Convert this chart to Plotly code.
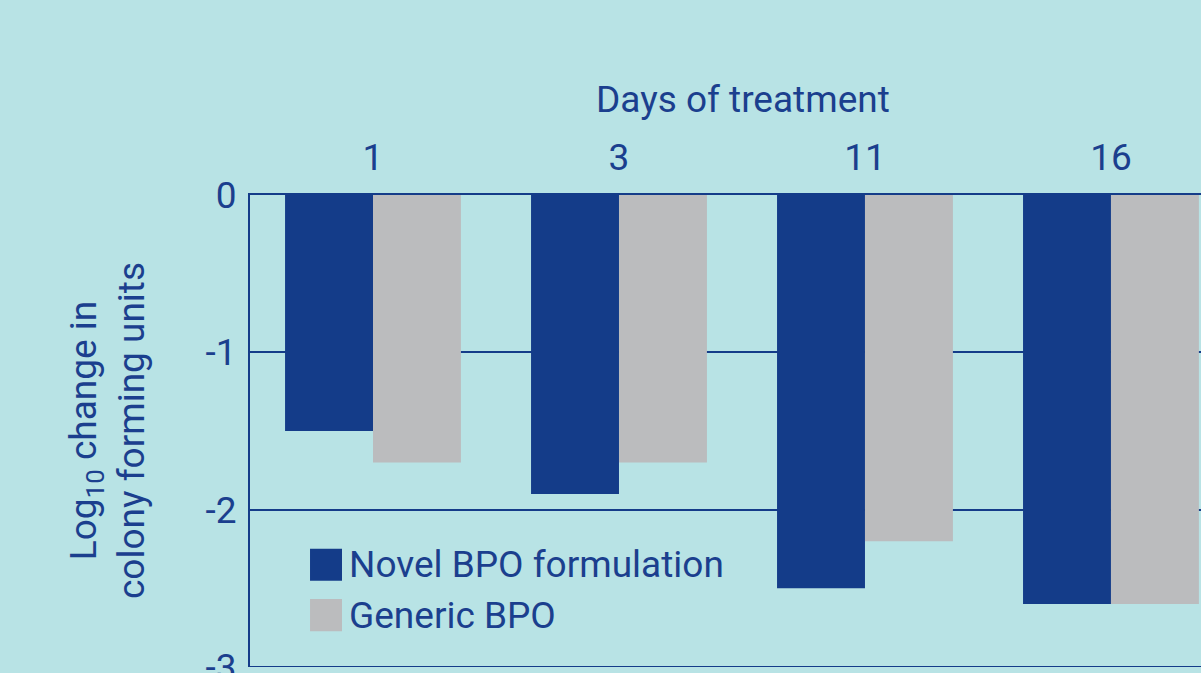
import plotly.graph_objects as go

# Days of treatment and log10 change in CFU for each formulation
days = ["1", "3", "11", "16"]
novel_bpo = [-1.5, -1.9, -2.5, -2.6]
generic_bpo = [-1.7, -1.7, -2.2, -2.6]
y_ticks = [0, -1, -2, -3]
y_tick_labels = ["0", "-1", "-2", "-3"]
series_names = ["Novel BPO formulation", "Generic BPO"]

NAVY = "#143c89"
GREY = "#bbbcbe"
TEXT = "#1b3f8e"
BG = "#b8e3e5"
FONT = "Roboto, Liberation Sans, sans-serif"
SIZE = 37

fig = go.Figure()
fig.add_bar(x=days, y=novel_bpo, name=series_names[0], marker=dict(color=NAVY, line=dict(width=0)))
fig.add_bar(x=days, y=generic_bpo, name=series_names[1], marker=dict(color=GREY, line=dict(width=0)))

fig.update_layout(
    width=1201,
    height=673,
    margin=dict(l=250, r=0, t=195, b=6, autoexpand=False),
    paper_bgcolor=BG,
    plot_bgcolor=BG,
    barmode="group",
    bargap=0.285,
    bargroupgap=0,
    showlegend=False,
    font=dict(family=FONT, size=SIZE, color=TEXT),
)

fig.update_xaxes(
    type="category",
    side="top",
    range=[-0.5, 3.366],
    showgrid=False,
    showline=True,
    linecolor=NAVY,
    linewidth=2,
    ticks="",
    ticklabelstandoff=8,
    automargin=False,
    tickfont=dict(family=FONT, size=SIZE, color=TEXT),
    zeroline=False,
)

fig.update_yaxes(
    range=[-3, 0],
    tickvals=y_ticks,
    ticktext=y_tick_labels,
    showgrid=True,
    gridcolor=NAVY,
    gridwidth=1.6,
    showline=True,
    linecolor=NAVY,
    linewidth=2,
    zeroline=False,
    ticks="",
    ticklabelstandoff=4,
    ticklabeloverflow="allow",
    automargin=False,
    tickfont=dict(family=FONT, size=SIZE, color=TEXT),
)

# Baseline at the bottom of the plotting area
fig.add_shape(type="line", xref="paper", yref="y", x0=0, x1=1, y0=-3, y1=-3,
              line=dict(color=NAVY, width=2), layer="above")

# Axis titles
fig.add_annotation(text="Days of treatment", xref="paper", yref="paper",
                   x=(743 - 250) / 951, y=1 + (195 - 100) / 472,
                   xanchor="center", yanchor="middle", showarrow=False,
                   font=dict(family=FONT, size=SIZE, color=TEXT))
fig.add_annotation(text="Log<sub>10</sub> change in<br>colony forming units",
                   xref="paper", yref="paper",
                   x=(107 - 250) / 951, y=0.5, textangle=-90,
                   xanchor="center", yanchor="middle", showarrow=False,
                   font=dict(family=FONT, size=SIZE, color=TEXT))

# Legend: swatches and labels
legend_rows = [(series_names[0], NAVY, -2.35), (series_names[1], GREY, -2.67)]
for label, color, yc in legend_rows:
    fig.add_shape(type="rect", xref="x", yref="y",
                  x0=-0.256, x1=-0.126, y0=yc - 0.102, y1=yc + 0.102,
                  fillcolor=color, line=dict(width=0), layer="above")
    fig.add_annotation(text=label, xref="x", yref="y", x=-0.107, y=yc,
                       xanchor="left", yanchor="middle", showarrow=False,
                       font=dict(family=FONT, size=SIZE, color=TEXT))

fig.write_html("out.html")
